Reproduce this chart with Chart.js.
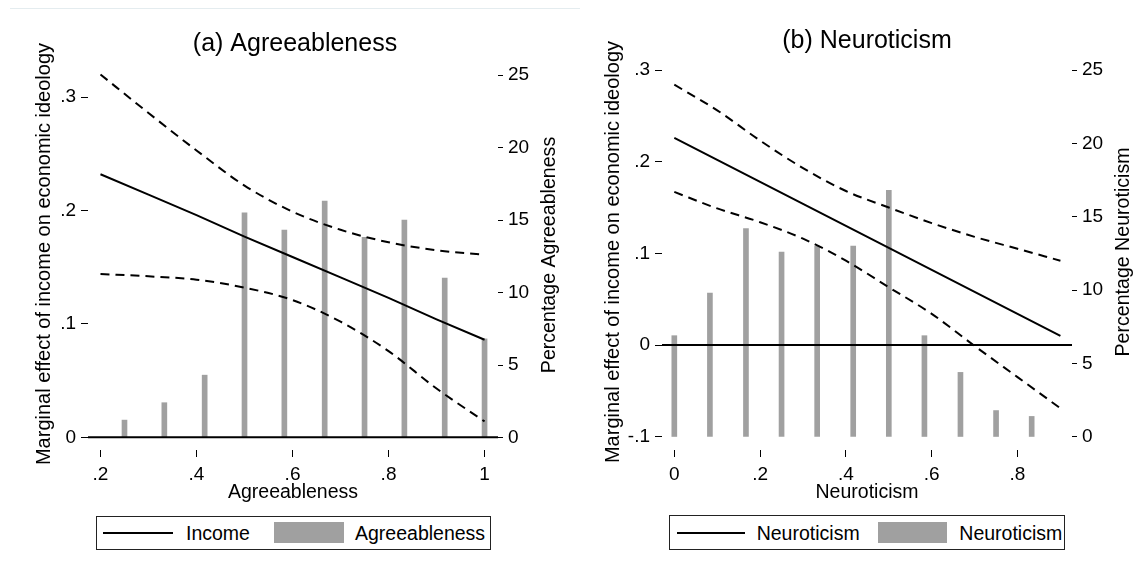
<!DOCTYPE html>
<html><head><meta charset="utf-8">
<script src="https://cdn.jsdelivr.net/npm/chart.js@4.4.1/dist/chart.umd.min.js"></script>
<style>
html,body{margin:0;padding:0;background:#fff;}
#wrap{position:relative;width:1143px;height:574px;overflow:hidden;background:#fff;font-family:"Liberation Sans",Arial,sans-serif;color:#000;}
canvas{position:absolute;top:0;}
#cA{left:0;} #cB{left:580px;}
.topline{position:absolute;left:10px;top:8px;width:570px;height:1px;background:#e4ecef;}
.lg{position:absolute;border:1px solid #222;box-sizing:border-box;background:#fff;}
.lgline{position:absolute;height:2px;background:#000;}
.lgbox{position:absolute;background:#a0a0a0;}
.lgtxt{position:absolute;font-size:19.5px;line-height:22px;white-space:nowrap;color:#000;}
</style></head><body>
<div id="wrap">
<div class="topline"></div>
<canvas id="cA" width="580" height="574"></canvas>
<canvas id="cB" width="563" height="574"></canvas>
<div id="legA"></div><div id="legB"></div>
</div>
<script>
// ---------- data ----------
const agreeLevels = [0.25, 0.333, 0.417, 0.5, 0.583, 0.667, 0.75, 0.833, 0.917, 1.0];
const agreePct    = [1.2, 2.4, 4.3, 15.5, 14.3, 16.3, 13.8, 15.0, 11.0, 6.8];
const agreeGrid   = [0.2, 0.3, 0.4, 0.5, 0.6, 0.7, 0.8, 0.9, 1.0];
const agreeEffect = [0.232, 0.214, 0.196, 0.177, 0.159, 0.141, 0.123, 0.104, 0.086];
const agreeUpper  = [0.320, 0.286, 0.253, 0.222, 0.199, 0.183, 0.172, 0.165, 0.161];
const agreeLower  = [0.144, 0.142, 0.139, 0.132, 0.121, 0.102, 0.076, 0.043, 0.014];

const neuroLevels = [0, 0.083, 0.167, 0.25, 0.333, 0.417, 0.5, 0.583, 0.667, 0.75, 0.833];
const neuroPct    = [6.9, 9.8, 14.2, 12.6, 13.0, 13.0, 16.8, 6.9, 4.4, 1.8, 1.4];
const neuroGrid   = [0, 0.1, 0.2, 0.3, 0.4, 0.5, 0.6, 0.7, 0.8, 0.9];
const neuroEffect = [0.226, 0.202, 0.178, 0.154, 0.130, 0.106, 0.082, 0.058, 0.034, 0.010];
const neuroUpper  = [0.284, 0.256, 0.223, 0.193, 0.168, 0.150, 0.133, 0.118, 0.105, 0.092];
const neuroLower  = [0.167, 0.149, 0.134, 0.116, 0.092, 0.063, 0.034, -0.001, -0.035, -0.069];

// ---------- tick labels / names ----------
const agreeXTicks = [0.2, 0.4, 0.6, 0.8, 1];
const agreeXLabels = ['.2', '.4', '.6', '.8', '1'];
const agreeYTicks = [0, 0.1, 0.2, 0.3];
const agreeYLabels = ['0', '.1', '.2', '.3'];
const neuroXTicks = [0, 0.2, 0.4, 0.6, 0.8];
const neuroXLabels = ['0', '.2', '.4', '.6', '.8'];
const neuroYTicks = [-0.1, 0, 0.1, 0.2, 0.3];
const neuroYLabels = ['-.1', '0', '.1', '.2', '.3'];
const pctTicks = [0, 5, 10, 15, 20, 25];
const pctLabels = ['0', '5', '10', '15', '20', '25'];
const seriesNamesA = ['Income', 'Agreeableness'];
const seriesNamesB = ['Neuroticism', 'Neuroticism'];
const titleA = '(a) Agreeableness';
const titleB = '(b) Neuroticism';
const yTitleL = 'Marginal effect of income on economic ideology';
const yTitleRA = 'Percentage Agreeableness';
const yTitleRB = 'Percentage Neuroticism';
const xTitleA = 'Agreeableness';
const xTitleB = 'Neuroticism';

// ---------- drawing ----------
const FAM = '"Liberation Sans", Arial, Helvetica, sans-serif';
const BAR_COLOR = '#a0a0a0';
Chart.defaults.font.family = FAM;
Chart.defaults.color = '#000';

function zip(xs, ys) { return xs.map((x, i) => ({x: x, y: ys[i]})); }

const decor = {
  id: 'decor',
  afterDatasetsDraw(chart, args, o) {
    const ctx = chart.ctx, a = chart.chartArea;
    const y0 = chart.scales.yL.getPixelForValue(0);
    ctx.save();
    ctx.strokeStyle = '#000'; ctx.lineWidth = 2;
    ctx.beginPath(); ctx.moveTo(a.left, y0); ctx.lineTo(a.right, y0); ctx.stroke();
    ctx.restore();
  },
  afterDraw(chart, args, o) {
    const ctx = chart.ctx;
    ctx.save();
    ctx.fillStyle = '#000';
    ctx.textAlign = 'center'; ctx.textBaseline = 'middle';
    ctx.font = '25px ' + FAM;
    ctx.fillText(o.title, o.titleX, o.titleY);
    ctx.font = o.yLSize + 'px ' + FAM;
    ctx.save(); ctx.translate(o.yLX, o.yLY); ctx.rotate(-Math.PI / 2); ctx.fillText(o.yLText, 0, 0); ctx.restore();
    ctx.font = o.yRSize + 'px ' + FAM;
    ctx.save(); ctx.translate(o.yRX, o.yRY); ctx.rotate(-Math.PI / 2); ctx.fillText(o.yRText, 0, 0); ctx.restore();
    ctx.restore();
  }
};

function makePanel(id, s) {
  const tickFont = {size: 19, family: FAM};
  const lineBase = {type: 'line', xAxisID: 'x', yAxisID: 'yL', borderColor: '#000', borderWidth: 2,
                    pointRadius: 0, fill: false, order: 1};
  return new Chart(document.getElementById(id), {
    type: 'bar',
    data: {
      datasets: [
        Object.assign({}, lineBase, {label: s.names[0], data: zip(s.grid, s.effect)}),
        Object.assign({}, lineBase, {label: 'upper', data: zip(s.grid, s.upper), borderDash: [9, 6], cubicInterpolationMode: 'monotone'}),
        Object.assign({}, lineBase, {label: 'lower', data: zip(s.grid, s.lower), borderDash: [9, 6], cubicInterpolationMode: 'monotone'}),
        {type: 'bar', label: s.names[1], data: zip(s.levels, s.pct), xAxisID: 'x', yAxisID: 'yR',
         backgroundColor: BAR_COLOR, borderWidth: 0, barThickness: 5, order: 2}
      ]
    },
    options: {
      responsive: false, animation: false, events: [], devicePixelRatio: 1,
      layout: {padding: {left: 0, right: 0, top: s.top, bottom: 70}},
      plugins: {
        legend: {display: false}, tooltip: {enabled: false}, title: {display: false},
        decor: s.decor
      },
      scales: {
        x: {
          type: 'linear', min: s.xMin, max: s.xMax, offset: false,
          afterBuildTicks: sc => { sc.ticks = s.xTicks.map(v => ({value: v})); },
          afterFit: sc => { sc.height = 54; },
          ticks: {callback: (v, i) => s.xLabels[i], font: tickFont, color: '#000', padding: 6, maxRotation: 0, autoSkip: false},
          grid: {drawOnChartArea: false, drawTicks: true, tickLength: 7, tickColor: '#000', tickWidth: 1, offset: false},
          border: {display: false},
          title: {display: true, text: s.xTitle, font: {size: 19.5, family: FAM}, color: '#000', padding: {top: 0, bottom: 0}}
        },
        yL: {
          type: 'linear', position: 'left', min: s.yLMin, max: s.yLMax,
          afterBuildTicks: sc => { sc.ticks = s.yTicks.map(v => ({value: v})); },
          afterFit: sc => { sc.width = s.leftW; },
          ticks: {callback: (v, i) => s.yLabels[i], font: tickFont, color: '#000', padding: 5, autoSkip: false},
          grid: {drawOnChartArea: false, drawTicks: true, tickLength: 7, tickColor: '#000', tickWidth: 1},
          border: {display: false}
        },
        yR: {
          type: 'linear', position: 'right', min: s.yRMin, max: s.yRMax,
          afterBuildTicks: sc => { sc.ticks = pctTicks.map(v => ({value: v})); },
          afterFit: sc => { sc.width = s.rightW; },
          ticks: {callback: (v, i) => pctLabels[i], font: tickFont, color: '#000', padding: 5, autoSkip: false},
          grid: {drawOnChartArea: false, drawTicks: true, tickLength: 5, tickColor: '#000', tickWidth: 1},
          border: {display: false}
        }
      }
    },
    plugins: [decor]
  });
}

const chartA = makePanel('cA', {
  levels: agreeLevels, pct: agreePct, grid: agreeGrid, effect: agreeEffect, upper: agreeUpper, lower: agreeLower,
  names: seriesNamesA, xTicks: agreeXTicks, xLabels: agreeXLabels, yTicks: agreeYTicks, yLabels: agreeYLabels,
  xTitle: xTitleA, xMin: 0.174, xMax: 1.028, yLMin: -0.0112, yLMax: 0.3213, yRMin: -0.862, yRMax: 25.14,
  top: 73, leftW: 88, rightW: 82,
  decor: {title: titleA, titleX: 295, titleY: 44.5, yLText: yTitleL, yLX: 44, yLY: 254, yLSize: 20,
          yRText: yTitleRA, yRX: 550, yRY: 255, yRSize: 19.6}
});

const chartB = makePanel('cB', {
  levels: neuroLevels, pct: neuroPct, grid: neuroGrid, effect: neuroEffect, upper: neuroUpper, lower: neuroLower,
  names: seriesNamesB, xTicks: neuroXTicks, xLabels: neuroXLabels, yTicks: neuroYTicks, yLabels: neuroYLabels,
  xTitle: xTitleB, xMin: -0.0287, xMax: 0.927, yLMin: -0.1145, yLMax: 0.3, yRMin: -0.887, yRMax: 25.0,
  top: 70, leftW: 82, rightW: 71,
  decor: {title: titleB, titleX: 287, titleY: 41.2, yLText: yTitleL, yLX: 33.5, yLY: 252, yLSize: 20,
          yRText: yTitleRB, yRX: 543.5, yRY: 252, yRSize: 19.6}
});

// ---------- HTML legends (built from dataset labels) ----------
function el(cls, css, text) {
  const d = document.createElement('div');
  d.className = cls;
  Object.keys(css).forEach(k => { d.style[k] = css[k] + 'px'; });
  if (text !== undefined) d.textContent = text;
  return d;
}
function buildLegend(hostId, chart, g) {
  const host = document.getElementById(hostId);
  const ds = chart.data.datasets;
  host.appendChild(el('lg', {left: g.bx, top: g.by, width: g.bw, height: g.bh}));
  host.appendChild(el('lgline', {left: g.l1, top: g.ly, width: g.l2 - g.l1}));
  host.appendChild(el('lgtxt', {left: g.t1, top: g.ty}, ds[0].label));
  const r = el('lgbox', {left: g.rx, top: g.ry, width: g.rw, height: g.rh});
  r.style.background = ds[3].backgroundColor;
  host.appendChild(r);
  host.appendChild(el('lgtxt', {left: g.t2, top: g.ty}, ds[3].label));
}
buildLegend('legA', chartA, {bx: 95.5, by: 515.5, bw: 395.5, bh: 34.5, l1: 102.7, l2: 173.3, ly: 531.7,
  t1: 186, t2: 355, ty: 521.7, rx: 274, ry: 522, rw: 70, rh: 21});
buildLegend('legB', chartB, {bx: 669, by: 514.5, bw: 396, bh: 35.5, l1: 677.3, l2: 745, ly: 531.7,
  t1: 756.7, t2: 959.3, ty: 521.7, rx: 878.3, ry: 521.7, rw: 69, rh: 21});
</script>
</body></html>
